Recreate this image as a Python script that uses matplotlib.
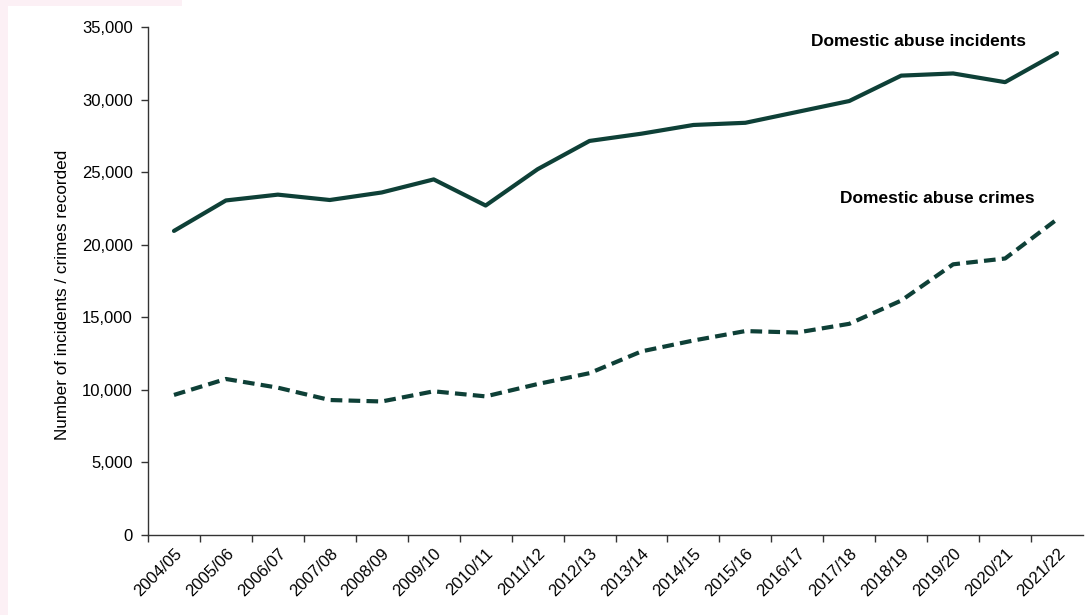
import matplotlib.pyplot as plt
import matplotlib.ticker as ticker
from matplotlib.patches import Rectangle

plt.rcParams["font.family"] = ["Liberation Sans", "DejaVu Sans"]

# Data
years = ["2004/05", "2005/06", "2006/07", "2007/08", "2008/09", "2009/10",
         "2010/11", "2011/12", "2012/13", "2013/14", "2014/15", "2015/16",
         "2016/17", "2017/18", "2018/19", "2019/20", "2020/21", "2021/22"]
incidents = [20950, 23050, 23450, 23080, 23600, 24500, 22700, 25200, 27150,
             27650, 28250, 28400, 29150, 29900, 31650, 31800, 31200, 33200]
crimes = [9650, 10750, 10150, 9300, 9200, 9900, 9550, 10400, 11150,
          12650, 13400, 14050, 13950, 14550, 16150, 18650, 19050, 21750]

GREEN = "#0e4037"
PINK = "#fcf0f5"

fig = plt.figure(figsize=(10.91, 6.15), dpi=100)
fig.patch.set_facecolor("white")
# pink page edges seen on the left / top-left
fig.patches.append(Rectangle((0, 0), 8 / 1091, 1, transform=fig.transFigure,
                             facecolor=PINK, edgecolor="none", zorder=0))
fig.patches.append(Rectangle((0, 1 - 6 / 615), 182 / 1091, 6 / 615,
                             transform=fig.transFigure, facecolor=PINK,
                             edgecolor="none", zorder=0))

ax = fig.add_axes([148 / 1091, 1 - 535 / 615, (1083 - 148) / 1091, (535 - 27) / 615])

x = [i + 0.5 for i in range(len(years))]
ax.plot(x, incidents, color=GREEN, lw=3, solid_joinstyle="round",
        solid_capstyle="round")
ax.plot(x, crimes, color=GREEN, lw=3, linestyle=(0, (2.8, 1.5)),
        dash_joinstyle="round")

ax.set_xlim(0, len(years))
ax.set_ylim(0, 35000)
ax.set_yticks(range(0, 35001, 5000))
ax.yaxis.set_major_formatter(ticker.FuncFormatter(lambda v, _: f"{int(v):,}"))

# category boundaries get the tick marks, labels sit at category centres
ax.set_xticks(range(len(years)))
ax.set_xticklabels([])
ax.set_xticks(x, minor=True)
ax.set_xticklabels(years, minor=True, rotation=45, ha="right",
                   rotation_mode="anchor", fontsize=12)
ax.tick_params(axis="x", which="minor", length=0, pad=8)
ax.tick_params(axis="x", which="major", length=5, width=1, color="#333333")
ax.tick_params(axis="y", length=5, width=1, color="#333333", labelsize=12, pad=6)

for s in ["top", "right"]:
    ax.spines[s].set_visible(False)
for s in ["left", "bottom"]:
    ax.spines[s].set_color("#333333")
    ax.spines[s].set_linewidth(1)

ax.set_ylabel("Number of incidents / crimes recorded", fontsize=12.3)
ax.yaxis.set_label_coords(-0.083, 0.472)

ax.text(12.77, 34000, "Domestic abuse incidents", fontsize=12.5, fontweight="bold",
        va="center", ha="left")
ax.text(13.33, 23200, "Domestic abuse crimes", fontsize=12.5, fontweight="bold",
        va="center", ha="left")

fig.savefig("out.png", dpi=100)
